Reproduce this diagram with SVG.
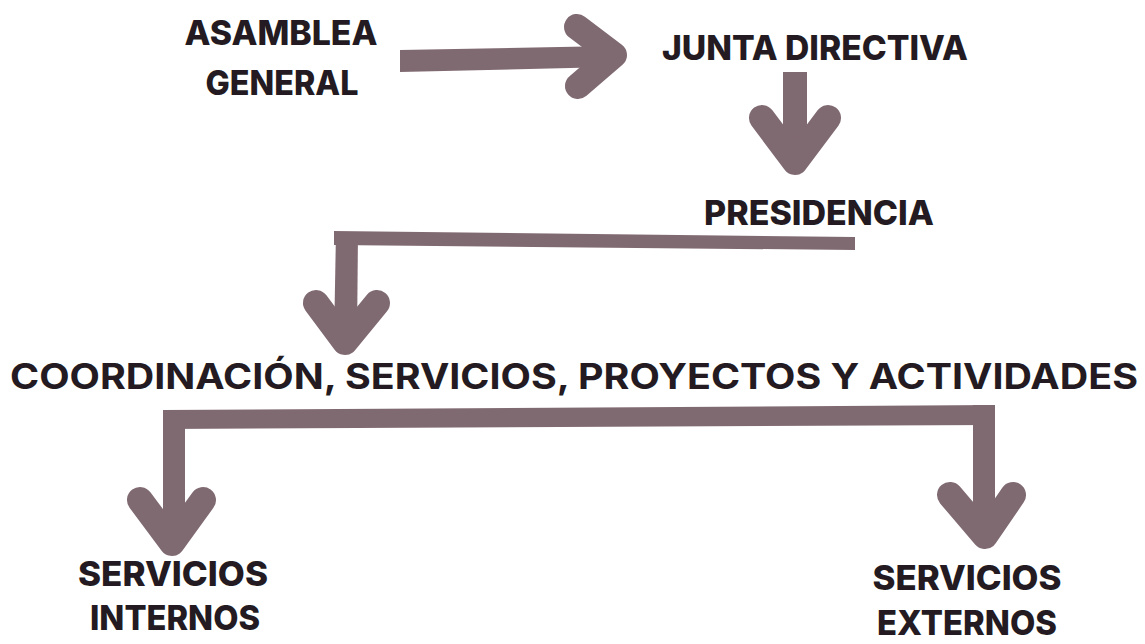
<svg xmlns="http://www.w3.org/2000/svg" width="1145" height="644" viewBox="0 0 1145 644">
<style>
.t{font-family:Inter,"Liberation Sans",sans-serif;font-weight:800;font-size:34px;fill:#231b21;text-anchor:middle}
.c{font-family:Inter,"Liberation Sans",sans-serif;font-weight:700;font-size:35px;fill:#231b21;text-anchor:middle}
.bar{fill:#806a72}
.head{fill:none;stroke:#806a72;stroke-width:26;stroke-linecap:round;stroke-linejoin:round}
</style>
<rect width="1145" height="644" fill="#ffffff"/>
<g id="asamblea"><text class="t" x="281" y="45" textLength="193" lengthAdjust="spacingAndGlyphs">ASAMBLEA</text><text class="t" x="282" y="95" textLength="153" lengthAdjust="spacingAndGlyphs">GENERAL</text></g>
<g id="junta"><text class="t" x="815" y="60" textLength="306" lengthAdjust="spacingAndGlyphs">JUNTA DIRECTIVA</text></g>
<g id="presidencia"><text class="t" x="819" y="225" textLength="230" lengthAdjust="spacingAndGlyphs">PRESIDENCIA</text></g>
<g id="coordinacion"><text class="c" x="574" y="389" textLength="1128" lengthAdjust="spacingAndGlyphs">COORDINACIÓN, SERVICIOS, PROYECTOS Y ACTIVIDADES</text></g>
<g id="internos"><text class="t" x="173" y="586" textLength="190" lengthAdjust="spacingAndGlyphs">SERVICIOS</text><text class="t" x="175" y="630" textLength="170" lengthAdjust="spacingAndGlyphs">INTERNOS</text></g>
<g id="externos"><text class="t" x="967" y="590" textLength="189" lengthAdjust="spacingAndGlyphs">SERVICIOS</text><text class="t" x="967" y="635" textLength="180" lengthAdjust="spacingAndGlyphs">EXTERNOS</text></g>
<g id="connectors">
<polygon class="bar" points="400,50 612,46 612,67 400,72"/>
<polyline class="head" points="577,27 614,55 578,86"/>
<polygon class="bar" points="783,72 807,72 807,160 783,160"/>
<polyline class="head" points="762,118 795,162 828,118"/>
<polygon class="bar" points="334,231 855,237 855,250 334,245"/>
<polygon class="bar" points="336,232 358,232 357,340 334,340"/>
<polyline class="head" points="316,303 345,342 377,303"/>
<polygon class="bar" points="163,410 995,405 995,425 163,429"/>
<polygon class="bar" points="163,410 185,410 185,540 163,540"/>
<polyline class="head" points="140,500 172,543 203,500"/>
<polygon class="bar" points="973,405 995,405 995,534 973,534"/>
<polyline class="head" points="950,495 985,536 1013,495"/>
</g>
</svg>
